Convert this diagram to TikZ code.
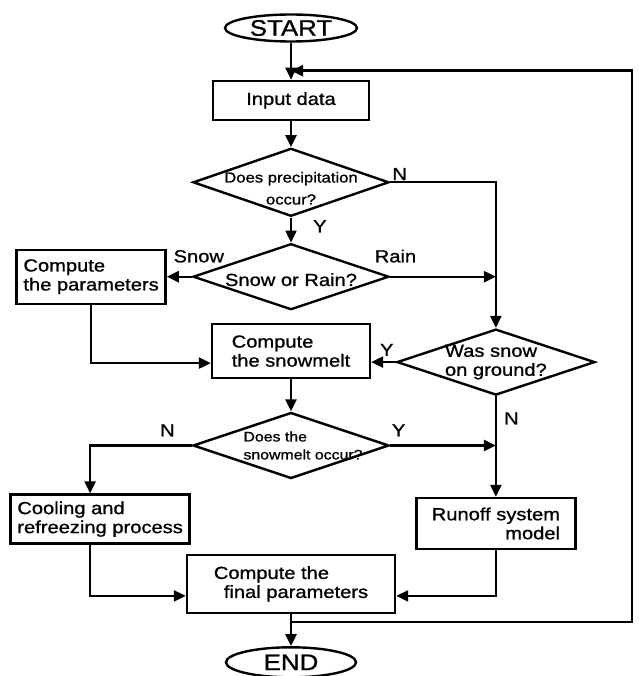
\documentclass[tikz,border=0pt]{standalone}
\usepackage{fontspec}
\setmainfont{Liberation Sans}[FakeStretch=1.15, FakeBold=1]
\usetikzlibrary{shapes.geometric, arrows.meta, positioning, calc}

\begin{document}
\begin{tikzpicture}[
    x=1pt, y=-1pt,
    line width=2.4pt,
    terminal/.style={ellipse, draw, minimum width=132pt, minimum height=27pt, inner sep=0pt, font=\fontsize{22.5}{22.5}\selectfont},
    process/.style={rectangle, draw, align=left, inner sep=4pt, font=\fontsize{17.5}{19}\selectfont},
    decision/.style={diamond, draw, minimum width=196pt, minimum height=66pt, inner sep=0pt},
    dtext/.style={align=left, inner sep=0pt, font=\fontsize{13.8}{18}\selectfont},
    arrow/.style={-{Triangle[length=12pt, width=11pt]}},
    branch/.style={font=\fontsize{17.5}{19}\selectfont, inner sep=1pt}
]
    \useasboundingbox (0,0) rectangle (638,676);

    \node[terminal] (start) at (291,28) {START};
    \node[process, below=37pt of start, minimum width=156pt, minimum height=39pt, align=center] (input) {Input data};
    \node[decision, below=26pt of input, minimum height=68pt] (prec) {};
    \node[dtext, align=center, font=\fontsize{14.5}{22}\selectfont] (prec-t) at ([yshift=-6pt]prec.center) {Does precipitation\\occur?};
    \node[decision, below=25pt of prec] (kind) {};
    \node[dtext, font=\fontsize{17.5}{19}\selectfont] (kind-t) at ([yshift=-3pt]kind.center) {Snow or Rain?};
    \node[process, left=25pt of kind, minimum width=149pt, minimum height=54pt] (params) {Compute\\the parameters};
    \node[process, below=12pt of kind, minimum width=158pt, minimum height=54pt] (melt) {Compute\\the snowmelt};
    \node[decision, right=24.5pt of melt, yshift=-11pt, minimum width=198pt] (ground) {};
    \node[dtext, font=\fontsize{17.5}{19}\selectfont] (ground-t) at (ground) {Was snow\\on ground?};
    \node[decision, below=32pt of melt] (occur) {};
    \node[dtext] (occur-t) at ([xshift=12pt]occur.center) {Does the\\snowmelt occur?};
    \node[process, below=100.5pt of ground, minimum width=159pt, minimum height=51pt, align=right] (runoff) {Runoff system\\model};
    \node[process, below=188.5pt of params, xshift=9pt, minimum width=179pt, minimum height=49pt] (cool) {Cooling and\\refreezing process};
    \node[process, below=74pt of occur, minimum width=208pt, minimum height=58pt] (final) {Compute the\\\hspace*{10pt}final parameters};
    \node[terminal, below=32pt of final, minimum width=130pt, minimum height=30pt] (end) {END};

    \draw[arrow] (start) -- (input);
    \draw[arrow] (input) -- (prec);
    \draw[arrow] (prec) -- node[branch, pos=0.35, right=20pt] {Y} (kind);
    \draw[arrow] (prec.east) -| node[branch, pos=0, above right] {N} (ground.north);
    \draw[arrow] (kind.west) -- node[branch, pos=0, above=12pt, xshift=7pt] {Snow} (params.east);
    \draw[arrow] (kind.east) -- node[branch, pos=0.05, above=12pt] {Rain} (kind.east -| ground.north);
    \draw[arrow] (params.south) |- ([yshift=-12pt]melt.west);
    \draw[arrow] (ground.west) -- node[branch, pos=0, above left=4pt and 0pt] {Y} (ground.west -| melt.east);
    \draw[arrow] (melt) -- (occur);
    \draw[arrow] (occur.west) -| node[branch, pos=0.12, above=7pt] {N} ([xshift=-10pt]cool.north);
    \draw[arrow] (occur.east) -- node[branch, pos=0.08, above=7pt] {Y} (occur.east -| ground.south);
    \draw[arrow] (ground.south) -- node[branch, pos=0.22, right=6pt] {N} (runoff.north);
    \draw[arrow] ([xshift=-10pt]cool.south) |- ([yshift=-12pt]final.west);
    \draw[arrow] (runoff.south) |- ([yshift=-12pt]final.east);
    \draw[arrow] (final) -- (end);

    \coordinate (loop) at ([yshift=-8pt]final.south);
    \coordinate (rim) at (632,0);
    \coordinate (join) at ([yshift=9pt]input.north);
    \draw[arrow] (loop) -| (rim |- join) -- (join);
\end{tikzpicture}
\end{document}
